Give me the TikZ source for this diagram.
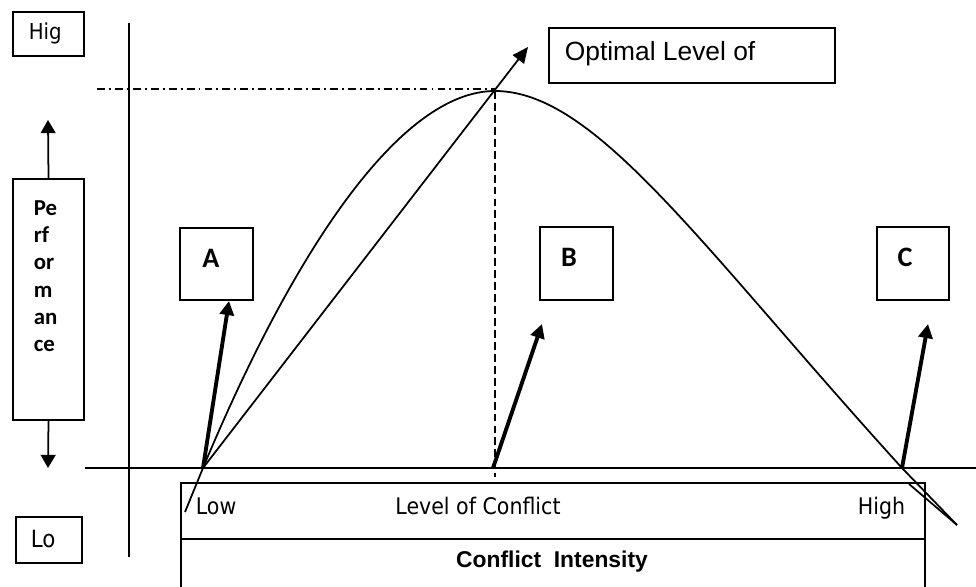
\documentclass[tikz,border=0pt]{standalone}
\usepackage{fontspec}
\setmainfont{DejaVu Sans}[FakeStretch=0.9]
\newfontfamily\arialfont{Liberation Sans}
\newfontfamily\calfont{Carlito}
\usetikzlibrary{arrows.meta}

\begin{document}
\begin{tikzpicture}[x=0.02cm,y=-0.02cm,line width=1pt,
  box/.style={draw,line width=1pt,inner sep=0pt,outer sep=0pt},
  tag/.style={font=\fontsize{13}{15}\selectfont,inner sep=0pt},
  letter/.style={font=\calfont\fontsize{16}{18}\selectfont\bfseries,inner sep=0pt},
  perf/.style={font=\calfont\fontsize{13}{15}\selectfont\bfseries,anchor=base west,inner sep=0pt},
  bigarrow/.style={line width=2.2pt,-{Triangle[length=8pt,width=8pt]}},
  thinarrow/.style={line width=1pt,-{Triangle[length=9pt,width=8pt]}}]
\useasboundingbox (0,0) rectangle (976,587);

% boxes
\node[box,minimum width=1.42cm,minimum height=0.88cm] (hig) at (48.5,34) {};
\node[box,minimum width=1.32cm,minimum height=0.92cm] (lo) at (49,540) {};
\node[box,minimum width=1.42cm,minimum height=4.82cm] (perfbox) at (48.5,299.5) {};
\node[box,minimum width=1.46cm,minimum height=1.44cm] (boxA) at (216.5,264) {};
\node[box,minimum width=1.46cm,minimum height=1.46cm] (boxB) at (576.5,263.5) {};
\node[box,minimum width=1.44cm,minimum height=1.46cm] (boxC) at (913,263.5) {};
\node[box,minimum width=5.72cm,minimum height=1.1cm] (optbox) at (692,55.5) {};

% texts
\node[font=\fontsize{12.5}{15}\selectfont,anchor=base west,inner sep=0pt] (higtext) at (28,40) {Hig};
\node[font=\fontsize{13.5}{15}\selectfont,anchor=base west,inner sep=0pt] (lotext) at (30,547) {Lo};
\node[font=\arialfont\fontsize{15}{18}\selectfont,anchor=base west,inner sep=0pt] (opttext) at (564,61) {Optimal Level of};
\node[letter] (labA) at (211,258) {A};
\node[letter] (labB) at (569,257) {B};
\node[letter] (labC) at (905,257) {C};

\node[perf] (perf1) at (33,216) {Pe};
\node[perf] (perf2) at (33,243) {rf};
\node[perf] (perf3) at (33,270) {or};
\node[perf] (perf4) at (33,297) {m};
\node[perf] (perf5) at (33,324) {an};
\node[perf] (perf6) at (33,351) {ce};

% axes
\draw (129,23) -- (129,557);
\draw (85,468) -- (976,468);

% bottom scale
\draw (181,587) -- (181,483) -- (925,483) -- (925,587);
\draw (181,539) -- (925,539);
\node[tag,anchor=base west] (low) at (195,514) {Low};
\node[tag,anchor=base] (level) at (478,514) {Level of Conflict};
\node[tag,anchor=base east] (high) at (906,514) {High};
\node[font=\arialfont\fontsize{13}{15}\selectfont\bfseries,inner sep=0pt] (intensity) at (552,562) {Conflict\ \ Intensity};

% points
\coordinate (lowPt) at (203,468);
\coordinate (midPt) at (493,468);
\coordinate (highPt) at (902,468);
\coordinate (peak) at (495,91);
\coordinate (optTip) at (528,47);
\coordinate (tipA) at (229,301);
\coordinate (tipB) at (542,324);
\coordinate (tipC) at (928,324);
\coordinate (perfUp) at (48,120);
\coordinate (perfDown) at (48,468);

% curve
\draw (185,512) -- (lowPt) .. controls (293,252) and (400,91) .. (peak)
  .. controls (596,91) and (702,248) .. (highPt) -- (957,525);
\draw (909,484) -- (957,525);
\draw[thinarrow] (lowPt) -- (optTip);
\draw[dash pattern=on 4.5pt off 2.3pt on 1.1pt off 2.3pt] (97,89) -- (peak |- 0,89);
\draw[dash pattern=on 4.5pt off 2.3pt] (peak) -- (495,477);

% arrows
\draw[bigarrow] (lowPt) -- (tipA);
\draw[bigarrow] (midPt) -- (tipB);
\draw[bigarrow] (highPt) -- (tipC);
\draw[thinarrow,-{Triangle[length=7.5pt,width=8.5pt]}] (perfbox.north) -- (perfUp);
\draw[thinarrow,-{Triangle[length=7.5pt,width=8.5pt]}] (perfbox.south) -- (perfDown);
\end{tikzpicture}
\end{document}
